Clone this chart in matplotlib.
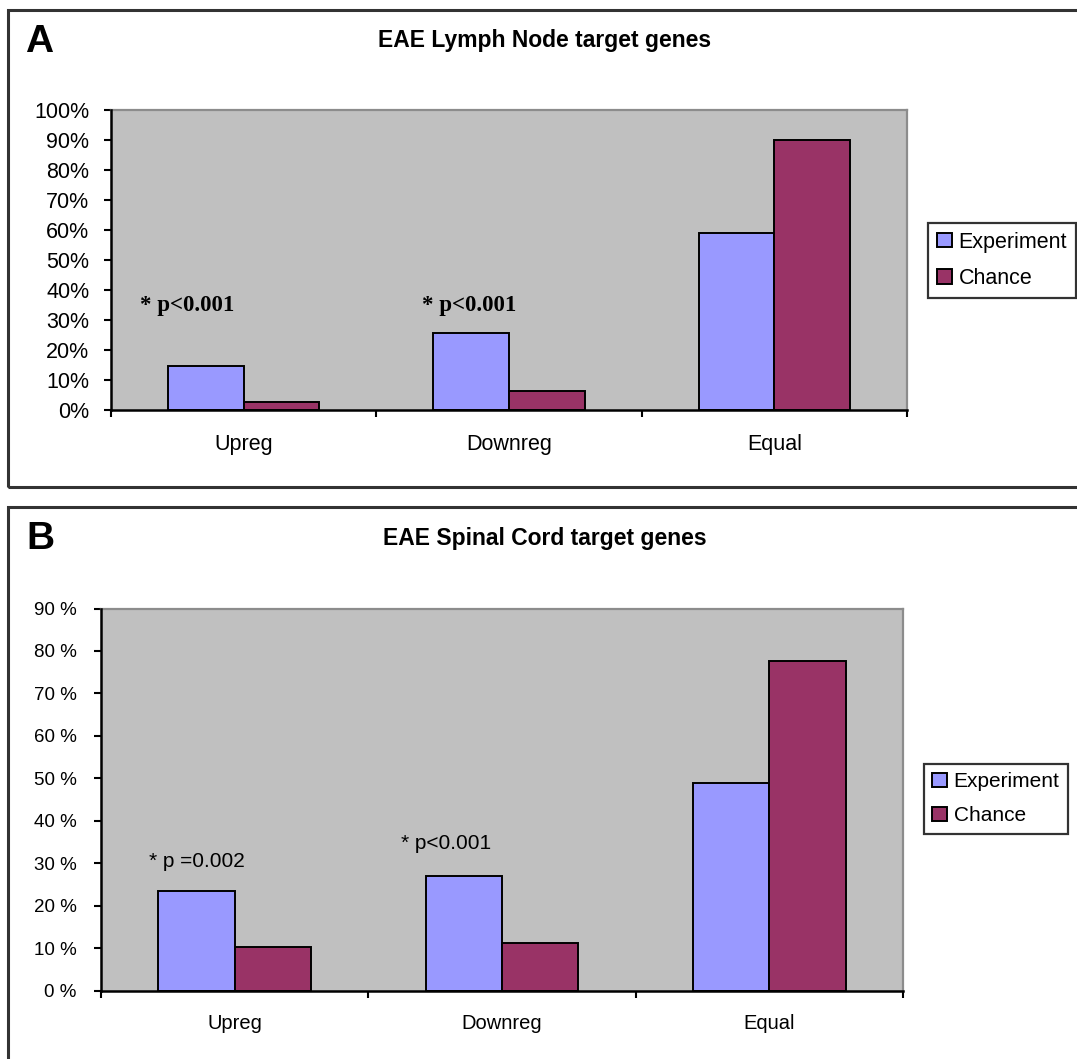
import matplotlib
matplotlib.use("Agg")
import matplotlib.pyplot as plt
from matplotlib.patches import Rectangle, Patch

plt.rcParams['font.family'] = ['Liberation Sans', 'DejaVu Sans']

categories = ["Upreg", "Downreg", "Equal"]
series_names = ["Experiment", "Chance"]
a_experiment = [14.7, 25.6, 58.8]
a_chance = [2.7, 6.3, 90.0]
b_experiment = [23.5, 26.9, 48.8]
b_chance = [10.3, 11.3, 77.6]
a_yticks = [0, 10, 20, 30, 40, 50, 60, 70, 80, 90, 100]
a_yticklabels = [f"{v}%" for v in a_yticks]
b_yticks = [0, 10, 20, 30, 40, 50, 60, 70, 80, 90]
b_yticklabels = [f"{v} %" for v in b_yticks]
a_title = "EAE Lymph Node target genes"
b_title = "EAE Spinal Cord target genes"
a_notes = ["* p<0.001", "* p<0.001"]
b_notes = ["* p =0.002", "* p<0.001"]

C_EXP = "#9999FF"
C_CH = "#993366"
BG = "#C0C0C0"

W, H = 1077, 1059
fig = plt.figure(figsize=(W / 100, H / 100), dpi=100)


def fx(px):
    return px / W


def fy(py):
    return 1 - py / H


# panel frames
for top, bot in [(10, 487), (507, 1080)]:
    fig.patches.append(Rectangle((fx(8), fy(bot)), fx(1200) - fx(8), fy(top) - fy(bot),
                                 transform=fig.transFigure, fill=False,
                                 edgecolor="#333333", linewidth=2.2, zorder=0))


def draw_panel(rect, exp, ch, yticks, ylabels, ylim, tick_fs, x_fs, ypad, xpad):
    ax = fig.add_axes(rect)
    ax.set_facecolor(BG)
    w = 1 / 3.5
    xs = list(range(len(categories)))
    ax.bar([x - w / 2 for x in xs], exp, width=w, color=C_EXP, edgecolor="black",
           linewidth=1.4, zorder=3)
    ax.bar([x + w / 2 for x in xs], ch, width=w, color=C_CH, edgecolor="black",
           linewidth=1.4, zorder=3)
    ax.set_xlim(-0.5, len(categories) - 0.5)
    ax.set_ylim(*ylim)
    ax.set_yticks(yticks)
    ax.set_yticklabels(ylabels, fontsize=tick_fs)
    ax.set_xticks([x - 0.5 for x in range(len(categories) + 1)])
    ax.set_xticklabels([])
    ax.set_xticks(xs, minor=True)
    ax.set_xticklabels(categories, minor=True, fontsize=x_fs)
    ax.tick_params(axis="x", which="minor", length=0, pad=xpad)
    ax.tick_params(axis="x", which="major", length=5, width=1.5, direction="out")
    ax.tick_params(axis="y", length=5, width=1.5, direction="out", pad=ypad)
    for s in ["left", "bottom"]:
        ax.spines[s].set_color("black")
        ax.spines[s].set_linewidth(1.8)
        ax.spines[s].set_zorder(5)
    for s in ["top", "right"]:
        ax.spines[s].set_color("#8c8c8c")
        ax.spines[s].set_linewidth(1.6)
    return ax


axA = draw_panel([fx(111), fy(410), fx(907) - fx(111), fy(109.5) - fy(410)],
                 a_experiment, a_chance, a_yticks, a_yticklabels, (0, 100),
                 15.5, 15.5, 10.5, 17.5)
axB = draw_panel([fx(101), fy(990.5), fx(903) - fx(101), fy(608.5) - fy(990.5)],
                 b_experiment, b_chance, b_yticks, b_yticklabels, (0, 90),
                 13.5, 14.5, 12.5, 17)

# annotations
serif = ["Liberation Serif", "DejaVu Serif"]
axA.text(-0.391, 34.9, a_notes[0], ha="left", va="center", fontsize=16.5,
         fontweight="bold", family=serif, zorder=4)
axA.text(0.672, 34.9, a_notes[1], ha="left", va="center", fontsize=16.5,
         fontweight="bold", family=serif, zorder=4)
axB.text(-0.32, 30.5, b_notes[0], ha="left", va="center", fontsize=15, zorder=4)
axB.text(0.622, 34.7, b_notes[1], ha="left", va="center", fontsize=15, zorder=4)

# titles and panel letters
fig.text(fx(545), fy(40), a_title, ha="center", va="center", fontsize=16.5, fontweight="bold")
fig.text(fx(545), fy(539), b_title, ha="center", va="center", fontsize=16.5, fontweight="bold")
fig.text(fx(25), fy(42), "A", ha="left", va="center", fontsize=28, fontweight="bold")
fig.text(fx(26), fy(539), "B", ha="left", va="center", fontsize=28, fontweight="bold")

# legends
handles = [Patch(facecolor=C_EXP, edgecolor="black", linewidth=1.4),
           Patch(facecolor=C_CH, edgecolor="black", linewidth=1.4)]
for anchor, fs in [((fx(928), fy(223)), 15.5), ((fx(924), fy(764)), 15)]:
    leg = fig.legend(handles, series_names, loc="upper left", bbox_to_anchor=anchor,
                     bbox_transform=fig.transFigure, fontsize=fs, frameon=True,
                     fancybox=False, edgecolor="black", borderaxespad=0,
                     handlelength=0.72, handleheight=0.65, handletextpad=0.3,
                     borderpad=0.4, labelspacing=0.72)
    leg.get_frame().set_linewidth(1.6)

fig.savefig("out.png", dpi=100, facecolor="white")
